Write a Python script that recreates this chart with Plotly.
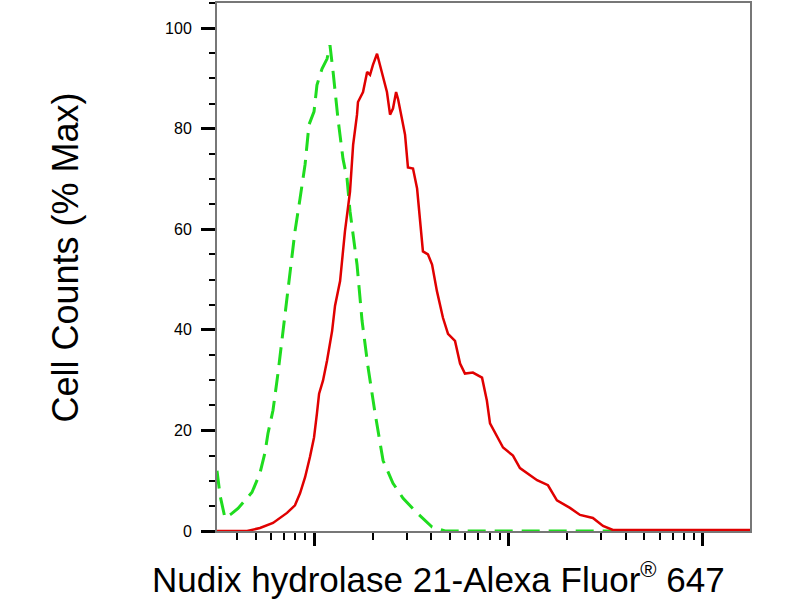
"""Flow cytometry overlay histogram: isotype control vs. Nudix hydrolase 21 stain."""

import numpy as np
import plotly.graph_objects as go

# log10 of fluorescence intensity, and % of max cell counts
control_log = [1.501, 1.517, 1.542, 1.578, 1.609, 1.681, 1.722, 1.748, 1.763, 1.789,
               1.815, 1.841, 1.866, 1.902, 1.928, 1.954, 1.974, 2.000, 2.015, 2.041,
               2.067, 2.082, 2.098, 2.123, 2.149, 2.170, 2.185, 2.221, 2.247, 2.278,
               2.314, 2.339, 2.355, 2.406, 2.458, 2.530, 2.607, 2.674, 4.242]
control_pct = [12.0, 7.0, 2.6, 3.5, 4.5, 7.7, 11.5, 15.6, 19.4, 24.0,
               31.5, 39.8, 48.3, 59.6, 66.1, 72.9, 80.8, 83.4, 88.7, 91.9,
               93.9, 96.6, 91.3, 82.0, 74.0, 70.0, 63.6, 53.0, 41.8, 32.5,
               23.4, 17.4, 14.0, 9.5, 6.5, 3.6, 0.8, 0.0, 0.0]

stain_log = [1.501, 1.656, 1.722, 1.789, 1.861, 1.902, 1.928, 1.954, 1.979, 2.000,
             2.015, 2.026, 2.046, 2.067, 2.093, 2.108, 2.134, 2.159, 2.185, 2.201,
             2.221, 2.226, 2.252, 2.273, 2.288, 2.303, 2.324, 2.339, 2.355, 2.375,
             2.391, 2.406, 2.422, 2.432, 2.452, 2.468, 2.483, 2.509, 2.530, 2.545,
             2.560, 2.586, 2.607, 2.632, 2.663, 2.689, 2.725, 2.751, 2.776, 2.817,
             2.864, 2.889, 2.905, 2.972, 3.023, 3.059, 3.147, 3.203, 3.249, 3.316,
             3.368, 3.434, 3.486, 3.537, 4.242]
stain_pct = [0.0, 0.0, 0.6, 1.6, 3.6, 5.1, 7.5, 10.7, 14.7, 18.6,
             23.4, 27.3, 29.9, 33.9, 39.8, 44.8, 49.7, 59.6, 67.5, 76.8,
             82.8, 85.3, 87.3, 91.3, 90.7, 92.7, 94.9, 92.7, 90.7, 87.3,
             82.8, 84.0, 87.3, 85.9, 82.0, 78.8, 72.3, 72.1, 68.1, 62.2,
             55.6, 55.0, 53.0, 47.7, 42.4, 39.2, 37.8, 33.3, 31.3, 31.5,
             30.5, 25.9, 21.4, 16.6, 15.0, 12.5, 10.1, 9.1, 6.1, 4.6,
             3.2, 2.6, 1.0, 0.2, 0.2]

y_ticks = [0, 20, 40, 60, 80, 100]
x_major = [100, 1000, 10000]
x_minor = [m * 10 ** k for k in (1, 2, 3) for m in range(2, 10)]

FONT = "Liberation Sans, Arial, sans-serif"

fig = go.Figure()
fig.add_trace(go.Scatter(
    x=10 ** np.array(control_log), y=control_pct, mode="lines",
    line={"color": "#1fdc1f", "width": 3, "dash": "18px,9px"},
    showlegend=False,
))
fig.add_trace(go.Scatter(
    x=10 ** np.array(stain_log), y=stain_pct, mode="lines",
    line={"color": "#e00000", "width": 2.5},
    showlegend=False,
))

fig.update_layout(
    width=800, height=600,
    margin={"l": 217, "r": 50, "t": 1, "b": 69},
    paper_bgcolor="white", plot_bgcolor="white",
    font={"family": FONT, "color": "black"},
    xaxis={
        "type": "log", "range": [1.501, 4.242],
        "tickmode": "array", "tickvals": x_major, "showticklabels": False,
        "ticks": "outside", "ticklen": 13, "tickwidth": 3, "tickcolor": "black",
        "minor": {"tickmode": "array", "tickvals": x_minor, "ticks": "outside",
                  "ticklen": 7, "tickwidth": 2, "tickcolor": "black", "showgrid": False},
        "showgrid": False, "zeroline": False,
        "showline": True, "linecolor": "#777", "linewidth": 2, "mirror": True,
    },
    yaxis={
        "range": [0, 105],
        "tickmode": "array", "tickvals": y_ticks,
        "ticks": "outside", "ticklen": 14, "tickwidth": 3, "tickcolor": "black",
        "tickfont": {"size": 16, "family": FONT, "color": "black"},
        "ticklabelstandoff": 6,
        "minor": {"dtick": 5, "ticks": "outside", "ticklen": 6, "tickwidth": 2,
                  "tickcolor": "black", "showgrid": False},
        "showgrid": False, "zeroline": False,
        "showline": True, "linecolor": "#777", "linewidth": 2, "mirror": True,
    },
    annotations=[
        {"text": "Nudix hydrolase 21-Alexa Fluor<sup><span style='font-size:22px'>®</span></sup> 647",
         "xref": "paper", "yref": "paper", "x": 0.4156, "y": -0.0887,
         "xanchor": "center", "yanchor": "middle", "showarrow": False,
         "font": {"size": 35, "family": FONT, "color": "black"}},
        {"text": "Cell Counts (% Max)",
         "xref": "paper", "yref": "paper", "x": -0.285, "y": 0.518,
         "xanchor": "center", "yanchor": "middle", "textangle": -90, "showarrow": False,
         "font": {"size": 36, "family": FONT, "color": "black"}},
    ],
)

# drop the browser's default body margin so the 800x600 figure fills the window
fig.write_html(
    "out.html",
    config={"displayModeBar": False},
    post_script="document.body.style.margin='0';",
)
